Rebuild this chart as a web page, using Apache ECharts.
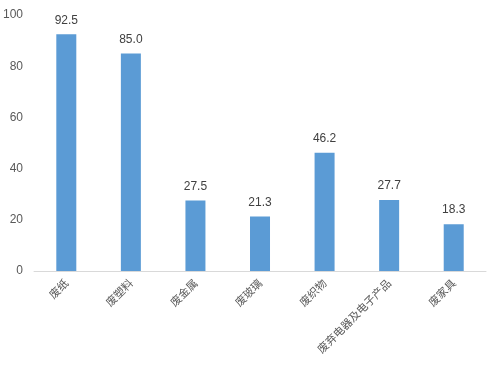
<!DOCTYPE html>
<html><head><meta charset="utf-8">
<script src="https://cdn.jsdelivr.net/npm/echarts@6/dist/echarts.min.js"></script>
<style>html,body{margin:0;padding:0;background:#fff}#c{width:496px;height:365px}</style>
</head><body><div id="c"></div>
<script>
const categories = ['废纸','废塑料','废金属','废玻璃','废织物','废弃电器及电子产品','废家具'];
const values = [92.5, 85.0, 27.5, 21.3, 46.2, 27.7, 18.3];
const yTicks = [0, 20, 40, 60, 80, 100];
const chart = echarts.init(document.getElementById('c'));
chart.setOption({
  animation: false,
  grid: {left: 33, right: 10, top: 15, bottom: 94},
  xAxis: {
    type: 'category', data: categories,
    axisLine: {lineStyle: {color: '#d9d9d9'}},
    axisTick: {show: false},
    axisLabel: {rotate: 45, color: '#595959', fontSize: 11, margin: 10,
      fontFamily: '"Noto Sans CJK SC", sans-serif', interval: 0}
  },
  yAxis: {
    type: 'value', min: yTicks[0], max: yTicks[yTicks.length-1], interval: 20,
    splitLine: {show: false}, axisLine: {show: false}, axisTick: {show: false},
    axisLabel: {color: '#595959', fontSize: 12, margin: 11, fontFamily: 'Liberation Sans, sans-serif'}
  },
  series: [{
    type: 'bar', data: values, barWidth: 20,
    itemStyle: {color: '#5b9bd5'},
    label: {show: true, position: 'top', distance: 8, color: '#404040', fontSize: 12,
      fontFamily: 'Liberation Sans, sans-serif', formatter: p => p.value.toFixed(1)}
  }]
});
</script></body></html>
